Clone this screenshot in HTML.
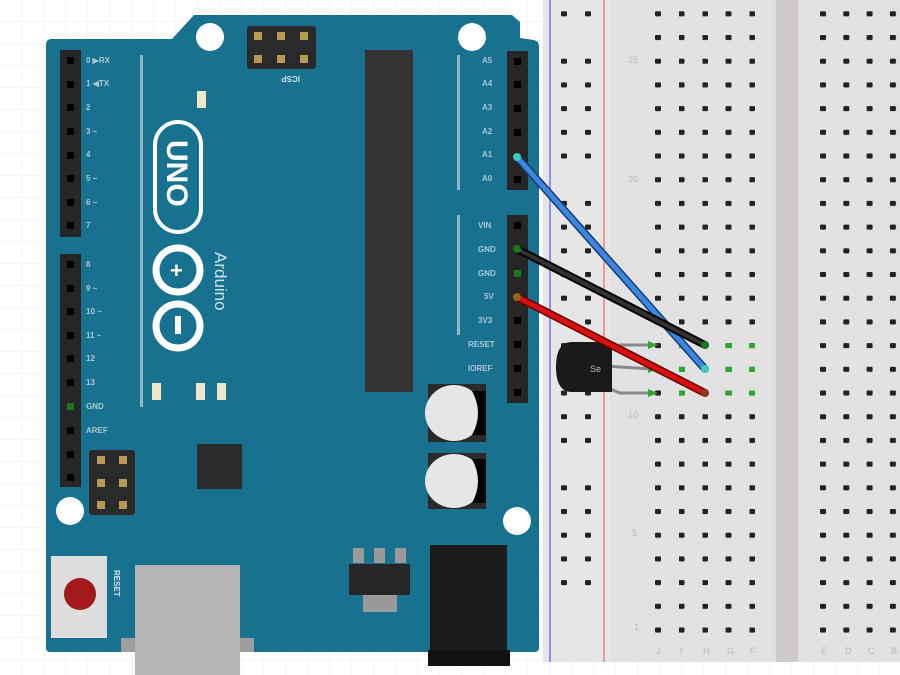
<!DOCTYPE html>
<html><head><meta charset="utf-8"><style>
html,body{margin:0;padding:0;background:#fff;}
svg{display:block;font-family:"Liberation Sans",sans-serif;}
</style></head><body>
<svg width="900" height="675" viewBox="0 0 900 675" xmlns="http://www.w3.org/2000/svg">
<defs>
<pattern id="grid" width="22" height="22" patternUnits="userSpaceOnUse">
<path d="M22 0V22H0" fill="none" stroke="#eceef2" stroke-width="1"/>
</pattern>
<pattern id="pL" x="655" y="11.3" width="23.5" height="23.7" patternUnits="userSpaceOnUse">
<rect x="0" y="0" width="6" height="5" rx="1" fill="#222"/>
</pattern>
<pattern id="pR" x="820" y="11.3" width="23.3" height="23.7" patternUnits="userSpaceOnUse">
<rect x="0" y="0" width="6" height="5" rx="1" fill="#222"/>
</pattern>
<pattern id="pRail" x="561" y="11.3" width="24" height="23.7" patternUnits="userSpaceOnUse">
<rect x="0" y="0" width="6" height="5" rx="1" fill="#222"/>
</pattern>
</defs>
<rect width="900" height="675" fill="#fff"/>
<rect width="900" height="675" fill="url(#grid)"/>

<rect x="543" y="0" width="357" height="662" fill="#dedede"/>
<rect x="543" y="0" width="67" height="662" fill="#e6e6e6"/>
<rect x="610" y="0" width="163" height="662" fill="#e2e2e2"/>
<rect x="776" y="0" width="22" height="662" fill="#cfcbcb"/>
<rect x="800" y="0" width="100" height="662" fill="#e2e2e2"/>
<line x1="550" y1="0" x2="550" y2="662" stroke="#8f8ff0" stroke-width="2"/>
<line x1="604" y1="0" x2="604" y2="662" stroke="#ef9a9a" stroke-width="2"/>
<g fill="#b8b8b8" font-size="9">
<text x="628" y="63">25</text><text x="628" y="182">20</text><text x="628" y="418">10</text><text x="632" y="536">5</text><text x="634" y="630">1</text>
<text x="656" y="654">J</text><text x="680" y="654">I</text><text x="703" y="654">H</text><text x="727" y="654">G</text><text x="750" y="654">F</text>
<text x="821" y="654">E</text><text x="845" y="654">D</text><text x="868" y="654">C</text><text x="891" y="654">B</text>
</g>
<rect x="650" y="5" width="110" height="630" fill="url(#pL)"/>
<rect x="815" y="5" width="85" height="630" fill="url(#pR)"/>
<rect x="556" y="8" width="40" height="12" fill="url(#pRail)"/>
<rect x="556" y="56" width="40" height="106" fill="url(#pRail)"/>
<rect x="556" y="198" width="40" height="248" fill="url(#pRail)"/>
<rect x="556" y="483" width="40" height="106" fill="url(#pRail)"/>
<g fill="#2ea82e">
<rect x="679" y="343" width="6" height="5"/><rect x="702" y="343" width="6" height="5"/><rect x="726" y="343" width="6" height="5"/><rect x="749" y="343" width="6" height="5"/>
<rect x="679" y="367" width="6" height="5"/><rect x="702" y="367" width="6" height="5"/><rect x="726" y="367" width="6" height="5"/><rect x="749" y="367" width="6" height="5"/>
<rect x="679" y="390.5" width="6" height="5"/><rect x="702" y="390.5" width="6" height="5"/><rect x="726" y="390.5" width="6" height="5"/><rect x="749" y="390.5" width="6" height="5"/>
</g>

<path d="M46 45 Q46 39 52 39 L172 39 L194 15 L512 15 L520 22 L520 38 L534 40 Q539 41 539 47 L539 648 Q539 652 534 652 L50 652 Q46 652 46 648 Z" fill="#17718f"/>
<circle cx="210" cy="37" r="14" fill="#fff"/>
<circle cx="472" cy="37" r="14" fill="#fff"/>
<circle cx="70" cy="511" r="14" fill="#fff"/>
<circle cx="517" cy="521" r="14" fill="#fff"/>
<rect x="60" y="50" width="21" height="187" fill="#262626"/>
<rect x="60" y="254" width="21" height="233" fill="#262626"/>
<g fill="#000">
<rect x="67" y="57" width="7" height="7"/><rect x="67" y="81" width="7" height="7"/><rect x="67" y="104" width="7" height="7"/><rect x="67" y="128" width="7" height="7"/><rect x="67" y="152" width="7" height="7"/><rect x="67" y="175" width="7" height="7"/><rect x="67" y="199" width="7" height="7"/><rect x="67" y="222" width="7" height="7"/>
<rect x="67" y="261" width="7" height="7"/><rect x="67" y="285" width="7" height="7"/><rect x="67" y="308" width="7" height="7"/><rect x="67" y="332" width="7" height="7"/><rect x="67" y="355" width="7" height="7"/><rect x="67" y="379" width="7" height="7"/><rect x="67" y="427" width="7" height="7"/><rect x="67" y="451" width="7" height="7"/><rect x="67" y="474" width="7" height="7"/>
</g>
<rect x="67" y="403" width="7" height="7" fill="#1a7a1a"/>
<rect x="507" y="51" width="21" height="139" fill="#262626"/>
<rect x="507" y="215" width="21" height="188" fill="#262626"/>
<g fill="#000">
<rect x="514" y="58" width="7" height="7"/><rect x="514" y="81" width="7" height="7"/><rect x="514" y="105" width="7" height="7"/><rect x="514" y="129" width="7" height="7"/><rect x="514" y="176" width="7" height="7"/>
<rect x="514" y="222" width="7" height="7"/><rect x="514" y="317" width="7" height="7"/><rect x="514" y="341" width="7" height="7"/><rect x="514" y="365" width="7" height="7"/><rect x="514" y="389" width="7" height="7"/>
</g>
<rect x="514" y="270" width="7" height="7" fill="#1a7a1a"/>
<rect x="140" y="55" width="3" height="352" fill="#8fb8c8"/>
<rect x="457" y="55" width="3" height="135" fill="#8fb8c8"/>
<rect x="457" y="215" width="3" height="120" fill="#8fb8c8"/>
<g fill="#a9c8d4" font-size="8" font-weight="bold">
<text x="86" y="63">0 ▶RX</text><text x="86" y="86">1 ◀TX</text><text x="86" y="110">2</text><text x="86" y="134">3 ~</text><text x="86" y="157">4</text><text x="86" y="181">5 ~</text><text x="86" y="205">6 ~</text><text x="86" y="228">7</text>
<text x="86" y="267">8</text><text x="86" y="291">9 ~</text><text x="86" y="314">10 ~</text><text x="86" y="338">11 ~</text><text x="86" y="361">12</text><text x="86" y="385">13</text><text x="86" y="409">GND</text><text x="86" y="433">AREF</text>
<text x="482" y="63">A5</text><text x="482" y="86">A4</text><text x="482" y="110">A3</text><text x="482" y="134">A2</text><text x="482" y="157">A1</text><text x="482" y="181">A0</text>
<text x="478" y="228">VIN</text><text x="478" y="252">GND</text><text x="478" y="276">GND</text><text x="484" y="299">5V</text><text x="478" y="323">3V3</text><text x="468" y="347">RESET</text><text x="468" y="371">IOREF</text>
</g>
<rect x="247" y="26" width="69" height="43" rx="3" fill="#2a2a2a"/>
<g fill="#b89a55"><rect x="254" y="32" width="8" height="8"/><rect x="277" y="32" width="8" height="8"/><rect x="300" y="32" width="8" height="8"/><rect x="254" y="55" width="8" height="8"/><rect x="277" y="55" width="8" height="8"/><rect x="300" y="55" width="8" height="8"/></g>
<text x="280" y="82" fill="#cfe2ea" font-size="8" font-weight="bold" transform="rotate(180 290 79)">ICSP</text>
<rect x="89" y="450" width="46" height="65" rx="3" fill="#2a2a2a"/>
<g fill="#b89a55"><rect x="97" y="456" width="8" height="8"/><rect x="119" y="456" width="8" height="8"/><rect x="97" y="479" width="8" height="8"/><rect x="119" y="479" width="8" height="8"/><rect x="97" y="501" width="8" height="8"/><rect x="119" y="501" width="8" height="8"/></g>
<rect x="155" y="122" width="46" height="110" rx="23" fill="none" stroke="#fff" stroke-width="4"/>
<text x="0" y="0" fill="#fff" font-size="30" font-weight="bold" transform="translate(167,140) rotate(90)">UNO</text>
<circle cx="178" cy="270" r="22" fill="none" stroke="#fff" stroke-width="7"/>
<circle cx="178" cy="326" r="22" fill="none" stroke="#fff" stroke-width="7"/>
<text x="170" y="278" fill="#fff" font-size="22" font-weight="bold">+</text>
<rect x="175" y="316" width="6" height="18" fill="#fff"/>
<text x="0" y="0" fill="#cfe2ea" font-size="17" transform="translate(215,252) rotate(90)">Arduino</text>
<g fill="#f0e6c8"><rect x="197" y="91" width="9" height="17"/><rect x="152" y="383" width="9" height="17"/><rect x="196" y="383" width="9" height="17"/><rect x="217" y="383" width="9" height="17"/></g>
<rect x="197" y="444" width="45" height="45" fill="#2b2b2b"/>
<rect x="365" y="50" width="48" height="342" fill="#333"/>
<rect x="428" y="384" width="58" height="58" fill="#2a2a2a"/>
<ellipse cx="454" cy="413" rx="29" ry="28" fill="#e6e6e6"/>
<path d="M472 391 Q484 413 472 435 L486 435 L486 391Z" fill="#000"/>
<rect x="428" y="453" width="58" height="56" fill="#2a2a2a"/>
<ellipse cx="454" cy="481" rx="29" ry="27" fill="#e6e6e6"/>
<path d="M472 459 Q484 481 472 503 L486 503 L486 459Z" fill="#000"/>
<g fill="#9a9a9a"><rect x="353" y="548" width="11" height="15"/><rect x="374" y="548" width="11" height="15"/><rect x="395" y="548" width="11" height="15"/><rect x="363" y="595" width="34" height="17"/></g>
<rect x="349" y="564" width="61" height="31" fill="#262626"/>
<rect x="430" y="545" width="77" height="110" fill="#1c1c1c"/>
<rect x="428" y="650" width="82" height="16" fill="#111"/>
<rect x="121" y="638" width="133" height="14" fill="#9e9e9e"/>
<rect x="135" y="565" width="105" height="110" fill="#b5b5b5"/>
<rect x="51" y="556" width="56" height="82" fill="#ddd"/>
<circle cx="80" cy="594" r="16" fill="#a31a1a"/>
<text x="0" y="0" fill="#cfe2ea" font-size="8" font-weight="bold" transform="translate(114,570) rotate(90)">RESET</text>

<g stroke="#8a8a8a" stroke-width="3" fill="none">
<path d="M600 348 L620 345 L652 345"/>
<path d="M605 366 L652 369"/>
<path d="M600 385 L620 393 L652 393"/>
</g>
<g fill="#2ea82e"><path d="M648 341 L658 345 L648 349Z"/><path d="M648 365 L658 369 L648 373Z"/><path d="M648 389 L658 393 L648 397Z"/></g>
<path d="M572 342 L612 342 L612 392 L572 392 Q556 392 556 367 Q556 342 572 342Z" fill="#1a1a1a"/>
<text x="590" y="372" fill="#bbb" font-size="9">Se</text>

<g stroke-linecap="round">
<line x1="517" y1="157" x2="705" y2="369" stroke="#1a3c6e" stroke-width="8"/>
<line x1="517" y1="157" x2="705" y2="369" stroke="#3a86e0" stroke-width="5"/>
<line x1="517" y1="249" x2="705" y2="345" stroke="#000" stroke-width="8"/>
<line x1="517" y1="249" x2="705" y2="345" stroke="#333" stroke-width="4"/>
<line x1="517" y1="297" x2="705" y2="393" stroke="#600" stroke-width="8"/>
<line x1="517" y1="297" x2="705" y2="393" stroke="#d81010" stroke-width="5"/>
</g>
<circle cx="517" cy="157" r="4" fill="#3fc9c0"/>
<circle cx="517" cy="249" r="4" fill="#1a7a1a"/>
<circle cx="517" cy="297" r="4" fill="#8a6a1a"/>
<circle cx="705" cy="345" r="4" fill="#1a7a1a"/>
<circle cx="705" cy="369" r="4" fill="#3fc9c0"/>
<circle cx="705" cy="393" r="4" fill="#8a3a1a"/>
</svg>
</body></html>
